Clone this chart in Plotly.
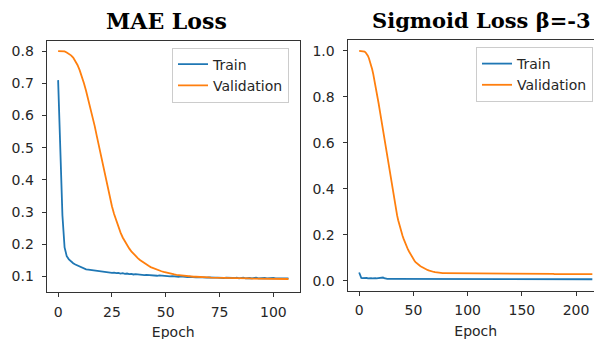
import plotly.graph_objects as go

# ---- data: MAE loss panel (epochs 0..107) ----
mae_epochs = list(range(108))
mae_train = [
    0.710, 0.460, 0.290, 0.190, 0.163, 0.153, 0.146, 0.141, 0.137, 0.134,
    0.131, 0.128, 0.124, 0.122, 0.121, 0.120, 0.119, 0.118, 0.117, 0.116,
    0.115, 0.114, 0.114, 0.112, 0.113, 0.111, 0.112, 0.110, 0.111, 0.109,
    0.110, 0.108, 0.109, 0.107, 0.108, 0.106, 0.107, 0.106, 0.105, 0.106,
    0.104, 0.105, 0.104, 0.103, 0.104, 0.103, 0.102, 0.103, 0.102, 0.101,
    0.102, 0.101, 0.100, 0.101, 0.100, 0.100, 0.099, 0.100, 0.099, 0.099,
    0.098, 0.099, 0.098, 0.098, 0.097, 0.098, 0.097, 0.098, 0.097, 0.096,
    0.097, 0.096, 0.097, 0.096, 0.096, 0.095, 0.096, 0.095, 0.096, 0.095,
    0.096, 0.095, 0.095, 0.096, 0.094, 0.095, 0.096, 0.094, 0.095, 0.095,
    0.094, 0.095, 0.096, 0.094, 0.095, 0.094, 0.095, 0.094, 0.095, 0.094,
    0.095, 0.094, 0.094, 0.095, 0.094, 0.094, 0.095, 0.094,
]
mae_val = [
    0.800, 0.800, 0.800, 0.799, 0.796, 0.792, 0.787, 0.780, 0.770, 0.757,
    0.741, 0.722, 0.700, 0.676, 0.650, 0.624, 0.597, 0.567, 0.535, 0.503,
    0.470, 0.437, 0.405, 0.374, 0.345, 0.318, 0.294, 0.272, 0.253, 0.236,
    0.221, 0.208, 0.197, 0.187, 0.178, 0.170, 0.163, 0.157, 0.151, 0.146,
    0.141, 0.137, 0.133, 0.129, 0.126, 0.123, 0.120, 0.118, 0.116, 0.114,
    0.112, 0.110, 0.108, 0.107, 0.106, 0.105, 0.104, 0.103, 0.102, 0.102,
    0.101, 0.100, 0.100, 0.099, 0.099, 0.099, 0.098, 0.098, 0.097, 0.097,
    0.097, 0.096, 0.096, 0.096, 0.096, 0.095, 0.095, 0.095, 0.095, 0.095,
    0.094, 0.094, 0.094, 0.094, 0.094, 0.094, 0.094, 0.094, 0.094, 0.094,
    0.093, 0.093, 0.093, 0.093, 0.093, 0.093, 0.093, 0.093, 0.093, 0.093,
    0.092, 0.092, 0.092, 0.092, 0.092, 0.092, 0.092, 0.092,
]

# ---- data: Sigmoid loss panel (epochs 0..215) ----
sig_epochs = list(range(216))
sig_train = [
    0.036, 0.018, 0.012, 0.011, 0.012, 0.010, 0.011, 0.012, 0.010, 0.011,
    0.012, 0.011, 0.010, 0.011, 0.010, 0.011, 0.010, 0.011, 0.010, 0.011,
    0.012, 0.013, 0.014, 0.011, 0.009,
] + [0.008] * 45 + [0.007] * 80 + [0.0065] * 66
sig_val = [
    1.000, 1.000, 1.000, 1.000, 0.999, 0.997, 0.993, 0.987, 0.979, 0.968,
    0.955, 0.939, 0.920, 0.899, 0.876, 0.851, 0.825, 0.798, 0.770, 0.741,
    0.712, 0.683, 0.654, 0.622, 0.590, 0.560, 0.530, 0.500, 0.470, 0.440,
    0.411, 0.383, 0.356, 0.330, 0.306, 0.284, 0.263, 0.244, 0.227, 0.211,
    0.196, 0.182, 0.169, 0.157, 0.146, 0.136, 0.127, 0.118, 0.110, 0.102,
    0.094, 0.087, 0.081, 0.076, 0.072, 0.068, 0.065, 0.062, 0.059, 0.056,
    0.053, 0.051, 0.049, 0.047, 0.045, 0.043, 0.042, 0.040, 0.039, 0.038,
    0.037, 0.036, 0.035, 0.035, 0.034, 0.034, 0.033, 0.033, 0.033, 0.033,
] + [0.032] * 20 + [0.031] * 40 + [0.030] * 40 + [0.029] * 36

mae_xticks = [0, 25, 50, 75, 100]
mae_yticks = [0.1, 0.2, 0.3, 0.4, 0.5, 0.6, 0.7, 0.8]
sig_xticks = [0, 50, 100, 150, 200]
sig_yticks = [0.0, 0.2, 0.4, 0.6, 0.8, 1.0]

series_names = ["Train", "Validation"]
titles = ["MAE Loss", "Sigmoid Loss β=-3"]
x_label = "Epoch"

BLUE = "#1f77b4"
ORANGE = "#ff7f0e"
W, H = 602, 339
OFF = 8  # page body margin offset
TXT = "#262626"
FONT = "DejaVu Sans"

fig = go.Figure()
fig.add_trace(go.Scatter(x=mae_epochs, y=mae_train, mode="lines", name=series_names[0],
                         line=dict(color=BLUE, width=1.8), xaxis="x", yaxis="y", legend="legend"))
fig.add_trace(go.Scatter(x=mae_epochs, y=mae_val, mode="lines", name=series_names[1],
                         line=dict(color=ORANGE, width=1.8), xaxis="x", yaxis="y", legend="legend"))
fig.add_trace(go.Scatter(x=sig_epochs, y=sig_train, mode="lines", name=series_names[0],
                         line=dict(color=BLUE, width=1.8), xaxis="x2", yaxis="y2", legend="legend2"))
fig.add_trace(go.Scatter(x=sig_epochs, y=sig_val, mode="lines", name=series_names[1],
                         line=dict(color=ORANGE, width=1.8), xaxis="x2", yaxis="y2", legend="legend2"))

axis_common = dict(showline=True, linecolor="#333", linewidth=1, mirror=True,
                   showgrid=False, zeroline=False, ticks="outside", ticklen=4,
                   tickwidth=1, tickcolor="#333",
                   tickfont=dict(family=FONT, size=14, color=TXT))

def px_x(p):
    return (p - OFF) / W

def px_y(p):
    return 1 - (p - OFF) / H

fig.update_layout(
    width=W, height=H,
    margin=dict(l=0, r=0, t=0, b=0, autoexpand=False),
    paper_bgcolor="white", plot_bgcolor="white",
    xaxis=dict(domain=[px_x(46.6), px_x(300)], range=[-5.35, 112.35],
               tickvals=mae_xticks, anchor="y", ticklabelstandoff=3,
               title=dict(text=x_label, font=dict(family=FONT, size=14, color=TXT), standoff=8),
               **axis_common),
    yaxis=dict(domain=[px_y(291.7), px_y(41)], range=[0.0525, 0.8315],
               tickvals=mae_yticks, tickformat=".1f", anchor="x", ticklabelstandoff=5,
               **axis_common),
    xaxis2=dict(domain=[px_x(347.5), px_x(604)], range=[-10.75, 225.75],
                tickvals=sig_xticks, anchor="y2", ticklabelstandoff=3,
                title=dict(text=x_label, font=dict(family=FONT, size=14, color=TXT), standoff=8),
                **axis_common),
    yaxis2=dict(domain=[px_y(290.5), px_y(39.5)], range=[-0.0425, 1.0495],
                tickvals=sig_yticks, tickformat=".1f", anchor="x2", ticklabelstandoff=5,
                **axis_common),
    legend=dict(x=px_x(289), y=px_y(47.5), xanchor="right", yanchor="top",
                bgcolor="rgba(255,255,255,0.8)", bordercolor="#cccccc", borderwidth=1,
                font=dict(family=FONT, size=14, color=TXT), tracegroupgap=0,
                itemwidth=30),
    legend2=dict(x=px_x(593), y=px_y(47), xanchor="right", yanchor="top",
                 bgcolor="rgba(255,255,255,0.8)", bordercolor="#cccccc", borderwidth=1,
                 font=dict(family=FONT, size=14, color=TXT), tracegroupgap=0,
                 itemwidth=30),
    showlegend=True,
)

fig.add_annotation(text="<b>" + titles[0] + "</b>", x=px_x(166), y=px_y(21),
                   xref="paper", yref="paper", xanchor="center", yanchor="middle",
                   showarrow=False, font=dict(family="DejaVu Serif", size=22, color="black"))
fig.add_annotation(text="<b>" + titles[1] + "</b>", x=px_x(481), y=px_y(21),
                   xref="paper", yref="paper", xanchor="center", yanchor="middle",
                   showarrow=False, font=dict(family="DejaVu Serif", size=21, color="black"))

fig.write_html("out.html")
